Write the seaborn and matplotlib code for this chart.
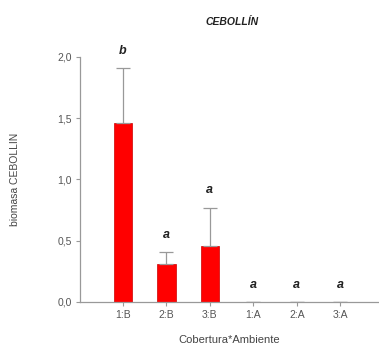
import matplotlib
matplotlib.use("Agg")
import matplotlib.pyplot as plt
import seaborn as sns
import pandas as pd
import numpy as np

categories = ["1:B", "2:B", "3:B", "1:A", "2:A", "3:A"]
means = [1.46, 0.31, 0.46, 0.0, 0.0, 0.0]
errors = [0.45, 0.10, 0.31, 0.0, 0.0, 0.0]
letters = ["b", "a", "a", "a", "a", "a"]
yticks = [0.0, 0.5, 1.0, 1.5, 2.0]

sns.set_style("white")
plt.rcParams["font.family"] = ["Liberation Sans", "DejaVu Sans"]

df = pd.DataFrame({"grupo": categories, "biomasa": means})

fig = plt.figure(figsize=(3.79, 3.49), dpi=100)
ax = fig.add_axes([0.211, 0.135, 0.79, 0.702])

sns.barplot(data=df, x="grupo", y="biomasa", order=categories, color="#ff0000",
            saturation=1, width=0.42, edgecolor="#cc0000", linewidth=0.5, ax=ax)

x = np.arange(len(categories))
ax.errorbar(x, means, yerr=[np.zeros(len(errors)), errors], fmt="none",
            ecolor="#999999", elinewidth=0.9, capsize=5, capthick=0.9)

# letras de significancia sobre cada barra
for xi, m, e, lab in zip(x, means, errors, letters):
    ax.text(xi, m + e + 0.14, lab, ha="center", va="center",
            fontsize=9, fontweight="bold", style="italic", color="#222222")

ax.set_xlim(-0.99, 5.9)
ax.set_ylim(0, 2.0)
ax.set_yticks(yticks)
ax.set_yticklabels([f"{v:.1f}".replace(".", ",") for v in yticks])

sns.despine(ax=ax)
for s in ["left", "bottom"]:
    ax.spines[s].set_color("#999999")
    ax.spines[s].set_linewidth(0.9)
ax.tick_params(axis="both", direction="out", length=3, width=0.8,
               color="#999999", labelsize=7.5, labelcolor="#555555",
               left=True, bottom=True, pad=3)

ax.set_xlabel("Cobertura*Ambiente", fontsize=8, color="#444444", labelpad=11)
ax.set_ylabel("biomasa CEBOLLIN", fontsize=7.5, color="#444444", labelpad=27)
fig.text(0.612, 0.937, "CEBOLLÍN", ha="center", va="center", fontsize=7.5,
         fontweight="bold", style="italic", color="#222222")

fig.savefig("out.png", dpi=100)
